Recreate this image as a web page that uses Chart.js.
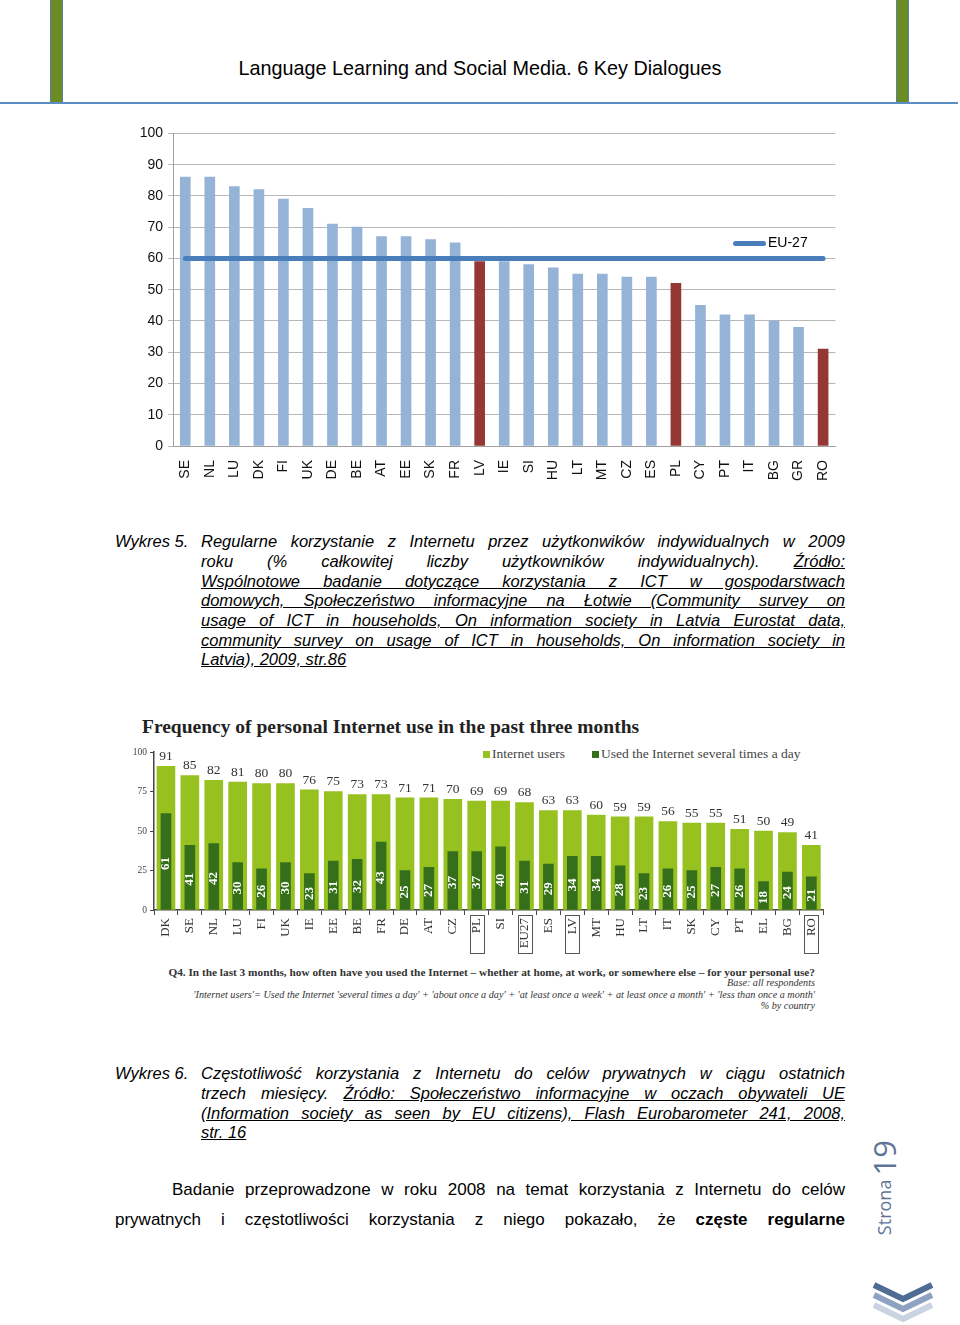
<!DOCTYPE html>
<html lang="pl">
<head>
<meta charset="UTF-8">
<script src="https://cdn.jsdelivr.net/npm/chart.js"></script>
<title>Strona 19</title>
<style>
  body { margin: 0; background: #fff; }
  #page { position: relative; width: 960px; height: 1325px; overflow: hidden; font-family: "Liberation Sans", Arial, sans-serif; color: #000; }
  .greenbar { position: absolute; top: 0; height: 102px; width: 11px; background: #6b8c23; border-left: 1px solid #5b7fa8; border-right: 1px solid #5b7fa8; }
  #topline { position: absolute; left: 0; top: 102px; width: 958px; height: 2px; background: #5b8fc4; }
  #header { position: absolute; left: 0; width: 960px; top: 57px; text-align: center; font-size: 19.8px; line-height: 22px; }
  .cap { position: absolute; font-style: italic; font-size: 16.5px; line-height: 20px; white-space: nowrap; text-align: justify; text-align-last: justify; }
  .cap.last { text-align-last: left; }
  .txt { position: absolute; font-size: 17px; line-height: 22px; white-space: nowrap; text-align: justify; text-align-last: justify; }
  .u { text-decoration: underline; }
  #wrap1 { position: absolute; left: 120px; top: 120px; width: 726px; height: 370px; }
  #wrap2 { position: absolute; left: 130px; top: 735px; width: 700px; height: 225px; }
  #leg1 { position: absolute; left: 733px; top: 233px; font-size: 14px; line-height: 18px; }
  #leg1 i { display: inline-block; width: 33px; height: 5px; border-radius: 3px; background: #4a7ebb; vertical-align: middle; margin-right: 2px; }
  #title2 { position: absolute; left: 142px; top: 715px; font-family: "Liberation Serif", serif; font-weight: bold; font-size: 19.5px; line-height: 24px; color: #222; }
  #leg2 { position: absolute; left: 483px; top: 745px; font-family: "Liberation Serif", serif; font-size: 13.5px; line-height: 17px; color: #444; white-space: nowrap; }
  #leg2 i { display: inline-block; width: 7px; height: 7px; margin-right: 2px; vertical-align: 0; }
  .note { position: absolute; right: 145px; font-family: "Liberation Serif", serif; font-size: 10.2px; line-height: 12px; color: #333; white-space: nowrap; text-align: right; }
  #strona { position: absolute; left: 863px; top: 1140px; writing-mode: vertical-rl; transform: rotate(180deg); font-family: "Open Sans", sans-serif; color: #5f7598; white-space: nowrap; }
</style>
</head>
<body>
<div id="page">
  <div class="greenbar" style="left:50px"></div>
  <div class="greenbar" style="left:896px"></div>
  <div id="topline"></div>
  <div id="header">Language Learning and Social Media. 6 Key Dialogues</div>

  <div id="wrap1"><canvas id="chart1"></canvas></div>
  <div id="leg1"><i></i>EU-27</div>

  <div class="cap" style="left:115px;top:531px">Wykres 5.</div>
  <div class="cap" style="left:201px;top:531px;width:644px">Regularne korzystanie z Internetu przez użytkonwików indywidualnych w 2009</div>
  <div class="cap" style="left:201px;top:551px;width:644px">roku (% całkowitej liczby użytkowników indywidualnych). <span class="u">Źródło:</span></div>
  <div class="cap u" style="left:201px;top:571px;width:644px">Wspólnotowe badanie dotyczące korzystania z ICT w gospodarstwach</div>
  <div class="cap u" style="left:201px;top:590px;width:644px">domowych, Społeczeństwo informacyjne na Łotwie (Community survey on</div>
  <div class="cap u" style="left:201px;top:610px;width:644px">usage of ICT in households, On information society in Latvia Eurostat data,</div>
  <div class="cap u" style="left:201px;top:630px;width:644px">community survey on usage of ICT in households, On information society in</div>
  <div class="cap u last" style="left:201px;top:649px">Latvia), 2009, str.86</div>

  <div id="title2">Frequency of personal Internet use in the past three months</div>
  <div id="leg2"><i style="background:#97c11f"></i>Internet users &nbsp;&nbsp;&nbsp;&nbsp;&nbsp;&nbsp;&nbsp;<i style="background:#356f1c"></i>Used the Internet several times a day</div>
  <div id="wrap2"><canvas id="chart2"></canvas></div>
  <div class="note" style="top:966px;font-weight:bold;font-size:11.3px">Q4. In the last 3 months, how often have you used the Internet – whether at home, at work, or somewhere else – for your personal use?</div>
  <div class="note" style="top:977px;font-style:italic">Base: all respondents</div>
  <div class="note" style="top:989px;font-style:italic">'Internet users'= Used the Internet 'several times a day' + 'about once a day' + 'at least once a week' + at least once a month' + 'less than once a month'</div>
  <div class="note" style="top:1000px;font-style:italic">% by country</div>

  <div class="cap" style="left:115px;top:1063px">Wykres 6.</div>
  <div class="cap" style="left:201px;top:1063px;width:644px">Częstotliwość korzystania z Internetu do celów prywatnych w ciągu ostatnich</div>
  <div class="cap" style="left:201px;top:1083px;width:644px">trzech miesięcy. <span class="u">Źródło: Społeczeństwo informacyjne w oczach obywateli UE</span></div>
  <div class="cap u" style="left:201px;top:1103px;width:644px">(Information society as seen by EU citizens), Flash Eurobarometer 241, 2008,</div>
  <div class="cap u last" style="left:201px;top:1122px">str. 16</div>

  <div class="txt" style="left:172px;top:1179px;width:673px">Badanie przeprowadzone w roku 2008 na temat korzystania z Internetu do celów</div>
  <div class="txt" style="left:115px;top:1209px;width:730px">prywatnych i częstotliwości korzystania z niego pokazało, że <b>częste regularne</b></div>

  <div id="strona"><span style="font-size:18px">Strona</span> <span style="font-size:31px">19</span></div>
  <svg style="position:absolute;left:870px;top:1279px" width="66" height="46">
    <polyline points="4,26 33,40 62,26" fill="none" stroke="#c9d3e2" stroke-width="6"/>
    <polyline points="4,16 33,30 62,16" fill="none" stroke="#8ea2c1" stroke-width="6"/>
    <polyline points="4,6 33,20 62,6" fill="none" stroke="#4f6c93" stroke-width="6"/>
  </svg>
</div>

<script>
  // Wykres 5 - regularne korzystanie z Internetu 2009
  const countries1 = ['SE','NL','LU','DK','FI','UK','DE','BE','AT','EE','SK','FR','LV','IE','SI','HU','LT','MT','CZ','ES','PL','CY','PT','IT','BG','GR','RO'];
  const regularUse = [86,86,83,82,79,76,71,70,67,67,66,65,59,59,58,57,55,55,54,54,52,45,42,42,40,38,31];
  const eu27Avg = 60;
  const highlighted1 = ['LV','PL','RO'];
  const yTicks1 = [0,10,20,30,40,50,60,70,80,90,100];

  // Wykres 6 - frequency of personal Internet use
  const countries2 = ['DK','SE','NL','LU','FI','UK','IE','EE','BE','FR','DE','AT','CZ','PL','SI','EU27','ES','LV','MT','HU','LT','IT','SK','CY','PT','EL','BG','RO'];
  const internetUsers = [91,85,82,81,80,80,76,75,73,73,71,71,70,69,69,68,63,63,60,59,59,56,55,55,51,50,49,41];
  const severalTimesDay = [61,41,42,30,26,30,23,31,32,43,25,27,37,37,40,31,29,34,34,28,23,26,25,27,26,18,24,21];
  const boxed2 = ['PL','EU27','LV','RO'];
  const yTicks2 = [0,25,50,75,100];

  new Chart(document.getElementById('chart1'), {
    type: 'bar',
    data: {
      labels: countries1,
      datasets: [{
        type: 'line',
        label: 'EU-27',
        data: countries1.map(() => eu27Avg),
        borderColor: '#4a7ebb',
        borderWidth: 5,
        borderCapStyle: 'round',
        pointRadius: 0,
        order: 0
      }, {
        label: 'regular',
        data: regularUse,
        backgroundColor: countries1.map(c => highlighted1.includes(c) ? '#953735' : '#95b3d7'),
        barThickness: 10,
        order: 1
      }]
    },
    options: {
      responsive: true,
      maintainAspectRatio: false,
      animation: false,
      layout: { padding: { top: 11, right: 5, left: 0, bottom: 0 } },
      plugins: { legend: { display: false }, tooltip: { enabled: false } },
      scales: {
        x: {
          grid: { display: false },
          border: { color: '#a0a0a0' },
          ticks: { minRotation: 90, maxRotation: 90, padding: 6, color: '#111', font: { family: 'Liberation Sans', size: 14 } },
          afterFit: s => { s.height = 44; }
        },
        y: {
          min: 0, max: 100,
          afterBuildTicks: s => { s.ticks = yTicks1.map(v => ({ value: v })); },
          grid: { color: '#b8b8b8', tickLength: 5 },
          border: { color: '#a0a0a0' },
          ticks: { padding: 5, color: '#111', font: { family: 'Liberation Sans', size: 14 } },
          afterFit: s => { s.width = 53; }
        }
      }
    }
  });

  const labels2 = {
    id: 'labels2',
    afterDraw(chart) {
      const ctx = chart.ctx;
      const users = chart.getDatasetMeta(0).data;
      const daily = chart.getDatasetMeta(1).data;
      const xs = chart.scales.x;
      ctx.save();
      ctx.textAlign = 'center';
      ctx.textBaseline = 'bottom';
      ctx.fillStyle = '#333';
      ctx.font = '13.5px "Liberation Serif"';
      users.forEach((b, i) => ctx.fillText(internetUsers[i], b.x, b.y - 3));
      ctx.fillStyle = '#fff';
      ctx.font = 'bold 13px "Liberation Serif"';
      ctx.textBaseline = 'middle';
      daily.forEach((b, i) => {
        ctx.save();
        ctx.translate(b.x, (b.y + b.base) / 2 + 2);
        ctx.rotate(-Math.PI / 2);
        ctx.fillText(severalTimesDay[i], 0, 0);
        ctx.restore();
      });
      ctx.strokeStyle = '#555';
      ctx.lineWidth = 1;
      countries2.forEach((c, i) => {
        if (!boxed2.includes(c)) return;
        const x = xs.getPixelForValue(i);
        ctx.strokeRect(Math.round(x - 7) + 0.5, chart.chartArea.bottom + 5.5, 14, 38);
      });
      ctx.restore();
    }
  };

  new Chart(document.getElementById('chart2'), {
    type: 'bar',
    data: {
      labels: countries2,
      datasets: [{
        label: 'Internet users',
        data: internetUsers,
        backgroundColor: '#97c11f',
        barThickness: 18,
        grouped: false,
        order: 2
      }, {
        label: 'Used the Internet several times a day',
        data: severalTimesDay,
        backgroundColor: '#356f1c',
        barThickness: 10,
        grouped: false,
        order: 1
      }]
    },
    options: {
      responsive: true,
      maintainAspectRatio: false,
      animation: false,
      layout: { padding: { top: 17, right: 3, left: 0, bottom: 0 } },
      plugins: { legend: { display: false }, tooltip: { enabled: false } },
      scales: {
        x: {
          grid: { drawOnChartArea: false, tickLength: 5, color: '#444' },
          border: { color: '#444', width: 1.5 },
          ticks: { minRotation: 90, maxRotation: 90, padding: 3, color: '#333', font: { family: 'Liberation Serif', size: 13 } },
          afterFit: s => { s.height = 50; }
        },
        y: {
          min: 0, max: 100,
          afterBuildTicks: s => { s.ticks = yTicks2.map(v => ({ value: v })); },
          grid: { drawOnChartArea: false, tickLength: 4, color: '#444' },
          border: { color: '#444', width: 1.5 },
          ticks: { padding: 3, color: '#444', font: { family: 'Liberation Serif', size: 9.5 } },
          afterFit: s => { s.width = 24; }
        }
      }
    },
    plugins: [labels2]
  });
</script>
</body>
</html>
